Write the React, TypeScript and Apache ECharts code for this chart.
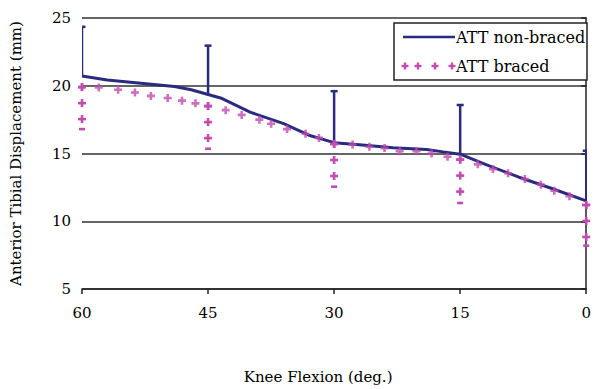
import React, { useEffect, useRef } from "react";
import * as echarts from "echarts";

const xTicks = [0, 15, 30, 45, 60];
const nonBracedDeg = [60, 57, 53, 49, 47, 45, 43.5, 40, 36, 33, 30, 27, 23, 19, 17, 15, 12, 8, 4, 0];
const nonBracedVal = [20.72, 20.42, 20.18, 19.94, 19.7, 19.35, 19.1, 18.05, 17.2, 16.35, 15.8, 15.65, 15.42, 15.3, 15.12, 14.95, 14.2, 13.25, 12.4, 11.5];
const nonBracedErrDeg = [60, 45, 30, 15, 0];
const nonBracedErrMean = [20.72, 19.35, 15.8, 14.95, 11.5];
const nonBracedErrHigh = [24.35, 22.96, 19.6, 18.58, 15.2];

const bracedDeg = [60, 58, 55.7, 53.7, 51.8, 49.8, 48.1, 46.5, 45, 42.9, 41, 38.9, 37.5, 35.6, 33.4, 31.8, 30, 27.8, 25.8, 24, 22.2, 20.2, 18.4, 16.5, 15, 12.9, 11.1, 9.3, 7.3, 5.4, 3.8, 2.0, 0];
const bracedVal = [19.9, 19.87, 19.7, 19.5, 19.25, 19.1, 18.9, 18.7, 18.5, 18.2, 17.85, 17.5, 17.2, 16.8, 16.46, 16.15, 15.7, 15.66, 15.5, 15.4, 15.17, 15.17, 15.0, 14.76, 14.55, 14.2, 13.85, 13.54, 13.12, 12.7, 12.25, 11.84, 11.2];
const bracedErrDeg = [60, 45, 30, 15, 0];
const bracedErrMean = [19.9, 18.5, 15.7, 14.55, 11.2];
const bracedErrLow = [16.8, 15.35, 12.55, 11.35, 8.2];

const NAVY = "#2A2B7E";
const PINK = "#C24CB0";
const FONT = "DejaVu Serif";
const PLUS = "path://M2.7,0H5.3V2.7H8V5.3H5.3V8H2.7V5.3H0V2.7H2.7Z";

function plusShapes(cx: number, cy: number, size = 8, t = 2.6) {
  return [
    { type: "rect", shape: { x: cx - size / 2, y: cy - t / 2, width: size, height: t }, style: { fill: PINK } },
    { type: "rect", shape: { x: cx - t / 2, y: cy - size / 2, width: t, height: size }, style: { fill: PINK } },
  ];
}

export default function App() {
  const ref = useRef<HTMLDivElement>(null);
  useEffect(() => {
    if (!ref.current) return;
    const chart = echarts.init(ref.current, undefined, { renderer: "svg" });
    const legendPluses = [405, 418, 435, 452].flatMap((x) => plusShapes(x, 66, 7, 2.4));
    chart.setOption({
      animation: false,
      backgroundColor: "#fff",
      grid: { left: 82, right: 7, top: 18, bottom: 97 },
      xAxis: {
        type: "value",
        inverse: true,
        min: 0,
        max: 60,
        interval: 15,
        name: "Knee Flexion (deg.)",
        nameLocation: "middle",
        nameGap: 80,
        nameTextStyle: { fontFamily: FONT, fontSize: 15, color: "#000", padding: [0, 32, 0, 0] },
        axisLine: { show: true, lineStyle: { color: "#222", width: 1.5 } },
        axisTick: { show: true, length: 5, lineStyle: { color: "#222", width: 1.5 } },
        axisLabel: {
          fontFamily: FONT,
          fontSize: 15,
          color: "#000",
          margin: 16,
          formatter: (v: number) => (xTicks.includes(v) ? String(v) : ""),
        },
        splitLine: { show: false },
      },
      yAxis: {
        type: "value",
        min: 5,
        max: 25,
        interval: 5,
        name: "Anterior Tibial Displacement (mm)",
        nameLocation: "middle",
        nameGap: 59,
        nameTextStyle: { fontFamily: FONT, fontSize: 15, color: "#000" },
        axisLine: { show: true, lineStyle: { color: "#222", width: 1.5 } },
        axisTick: { show: true, length: 5, lineStyle: { color: "#222", width: 1.5 } },
        axisLabel: { fontFamily: FONT, fontSize: 15, color: "#000", margin: 11 },
        splitLine: { show: true, lineStyle: { color: "#333", width: 1.5 } },
      },
      series: [
        {
          name: "ATT non-braced",
          type: "line",
          data: nonBracedDeg.map((d, i) => [d, nonBracedVal[i]]),
          symbol: "none",
          lineStyle: { color: NAVY, width: 3 },
          z: 3,
        },
        {
          name: "nbErr",
          type: "custom",
          clip: true,
          data: nonBracedErrDeg.map((d, i) => [d, nonBracedErrMean[i], nonBracedErrHigh[i]]),
          renderItem: (params: any, api: any) => {
            const p0 = api.coord([api.value(0), api.value(1)]);
            const p1 = api.coord([api.value(0), api.value(2)]);
            return {
              type: "group",
              children: [
                { type: "line", shape: { x1: p0[0], y1: p0[1], x2: p1[0], y2: p1[1] }, style: { stroke: NAVY, lineWidth: 2.5 } },
                { type: "line", shape: { x1: p1[0] - 3.5, y1: p1[1], x2: p1[0] + 3.5, y2: p1[1] }, style: { stroke: NAVY, lineWidth: 2.5 } },
              ],
            };
          },
          z: 3,
        },
        {
          name: "ATT braced",
          type: "scatter",
          data: bracedDeg.map((d, i) => [d, bracedVal[i]]),
          symbol: PLUS,
          symbolSize: 8,
          itemStyle: { color: PINK },
          z: 4,
        },
        {
          name: "bErr",
          type: "custom",
          data: bracedErrDeg.map((d, i) => [d, bracedErrMean[i], bracedErrLow[i]]),
          renderItem: (params: any, api: any) => {
            const p0 = api.coord([api.value(0), api.value(1)]);
            const p1 = api.coord([api.value(0), api.value(2)]);
            const children: any[] = [];
            for (let y = p0[1]; y < p1[1] - 8; y += 16) {
              children.push(...plusShapes(p0[0], y));
            }
            children.push({ type: "rect", shape: { x: p1[0] - 3, y: p1[1] - 1.3, width: 6, height: 2.6 }, style: { fill: PINK } });
            return { type: "group", children };
          },
          z: 4,
        },
      ],
      graphic: [
        {
          type: "rect",
          shape: { x: 394, y: 23, width: 193, height: 57 },
          style: { fill: "#fff", stroke: "#222", lineWidth: 1.5 },
          z: 10,
        },
        {
          type: "line",
          shape: { x1: 403, y1: 37, x2: 455, y2: 37 },
          style: { stroke: NAVY, lineWidth: 2.5 },
          z: 11,
        },
        ...legendPluses.map((s) => ({ ...s, z: 11 })),
        {
          type: "text",
          x: 456,
          y: 37,
          style: { text: "ATT non-braced", font: `16px '${FONT}'`, fill: "#000", verticalAlign: "middle", align: "left" },
          z: 11,
        },
        {
          type: "text",
          x: 456,
          y: 66,
          style: { text: "ATT braced", font: `16px '${FONT}'`, fill: "#000", verticalAlign: "middle", align: "left" },
          z: 11,
        },
      ],
    });
    return () => chart.dispose();
  }, []);
  return <div ref={ref} style={{ position: "fixed", left: 0, top: 0, width: 594, height: 389 }} />;
}
